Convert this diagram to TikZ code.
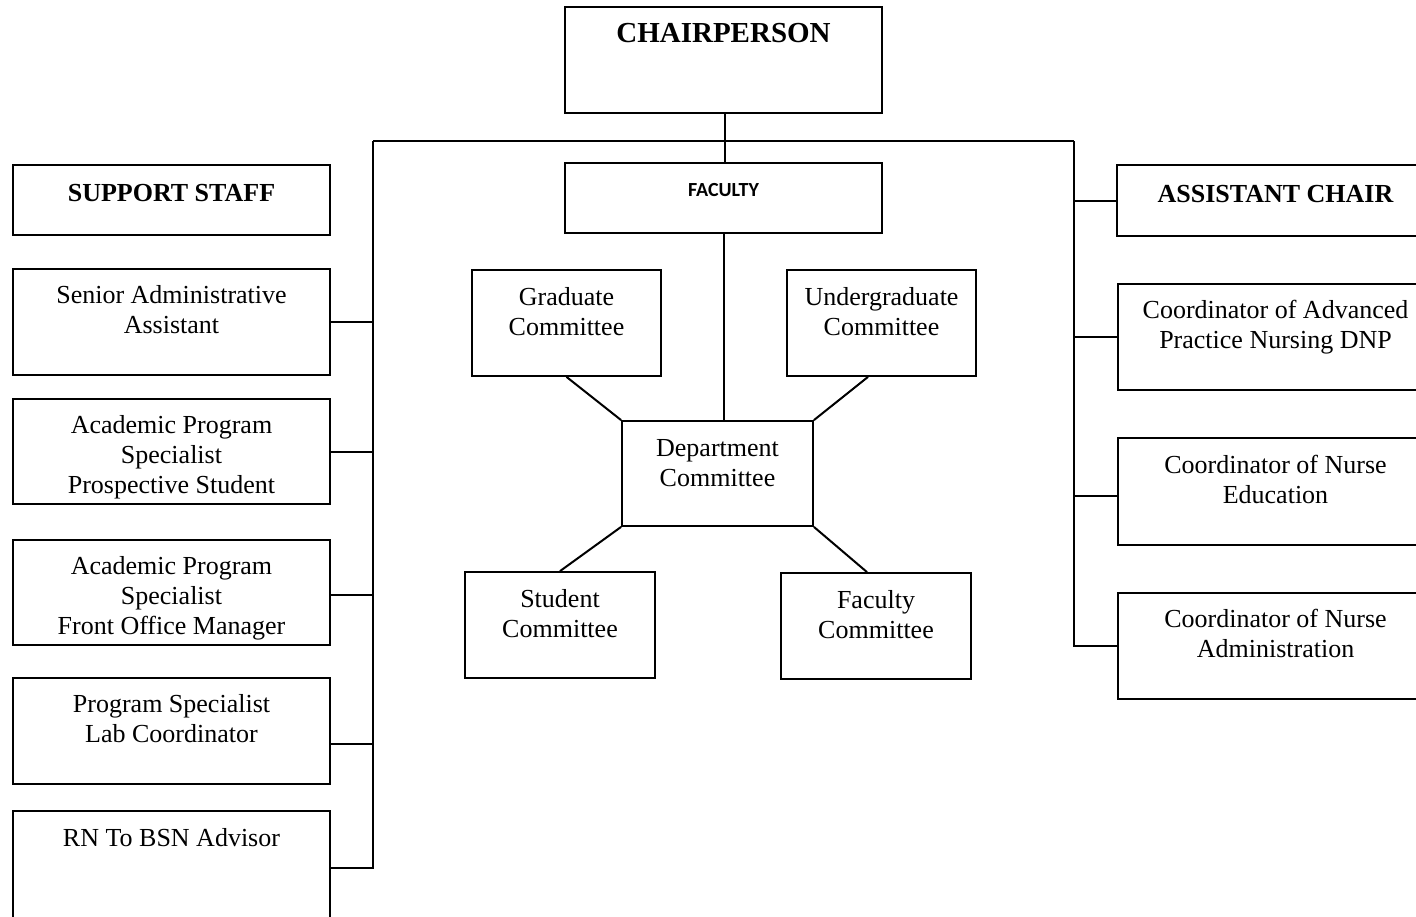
\documentclass[tikz,border=0pt]{standalone}
\usepackage{fontspec}
\setmainfont{Liberation Serif}
\newfontfamily\calfont{Carlito}
\usetikzlibrary{fit}
\begin{document}
\begin{tikzpicture}[x=0.5pt,y=-0.5pt,
  box/.style={draw, line width=0.9pt, rectangle, inner sep=0pt},
  txt/.style={font=\fontsize{13}{15}\selectfont, align=center, anchor=north, inner sep=0pt},
  ttl/.style={font=\fontsize{13}{15}\selectfont\bfseries, align=center, anchor=north, inner sep=0pt},
  link/.style={line width=1pt}]
\useasboundingbox (0,0) rectangle (1416,916);
\clip (0,0) rectangle (1416,916);
% corner coordinates of the boxes
\coordinate (chair-a) at (565,7);   \coordinate (chair-b) at (882,113);
\coordinate (fac-a) at (565,163);   \coordinate (fac-b) at (882,233);
\coordinate (ss-a) at (13,165);     \coordinate (ss-b) at (330,235);
\coordinate (sa-a) at (13,269);     \coordinate (sa-b) at (330,375);
\coordinate (ap1-a) at (13,399);    \coordinate (ap1-b) at (330,504);
\coordinate (ap2-a) at (13,540);    \coordinate (ap2-b) at (330,645);
\coordinate (ps-a) at (13,678);     \coordinate (ps-b) at (330,784);
\coordinate (rn-a) at (13,811);     \coordinate (rn-b) at (330,925);
\coordinate (ac-a) at (1117,165);   \coordinate (ac-b) at (1434,236);
\coordinate (ca-a) at (1118,284);   \coordinate (ca-b) at (1434,390);
\coordinate (ce-a) at (1118,438);   \coordinate (ce-b) at (1434,545);
\coordinate (cn-a) at (1118,593);   \coordinate (cn-b) at (1434,699);
\coordinate (gc-a) at (472,270);    \coordinate (gc-b) at (661,376);
\coordinate (uc-a) at (787,270);    \coordinate (uc-b) at (976,376);
\coordinate (dc-a) at (622,421);    \coordinate (dc-b) at (813,526);
\coordinate (sc-a) at (465,572);    \coordinate (sc-b) at (655,678);
\coordinate (fc-a) at (781,573);    \coordinate (fc-b) at (971,679);
% boxes
\foreach \n in {chair,fac,ss,sa,ap1,ap2,ps,rn,ac,ca,ce,cn,gc,uc,dc,sc,fc}
  \node[box, fit=(\n-a)(\n-b)] (\n) {};
% texts
\node[ttl, font=\fontsize{14.5}{17}\selectfont\bfseries] (chair-t) at (723.5,23) {CHAIRPERSON};
\node[ttl, font=\fontsize{10}{12}\selectfont\calfont\bfseries] (fac-t) at (723.5,183) {FACULTY};
\node[ttl] (ss-t) at (171.5,184) {SUPPORT STAFF};
\node[txt] (sa-t) at (171.5,285) {Senior Administrative\\Assistant};
\node[txt] (ap1-t) at (171.5,415) {Academic Program\\Specialist\\Prospective Student};
\node[txt] (ap2-t) at (171.5,556) {Academic Program\\Specialist\\Front Office Manager};
\node[txt] (ps-t) at (171.5,694) {Program Specialist\\Lab Coordinator};
\node[txt] (rn-t) at (171.5,828) {RN To BSN Advisor};
\node[ttl] (ac-t) at (1275.5,185) {ASSISTANT CHAIR};
\node[txt] (ca-t) at (1275.5,300) {Coordinator of Advanced\\Practice Nursing DNP};
\node[txt] (ce-t) at (1275.5,455) {Coordinator of Nurse\\Education};
\node[txt] (cn-t) at (1275.5,609) {Coordinator of Nurse\\Administration};
\node[txt] (gc-t) at (566.5,287) {Graduate\\Committee};
\node[txt] (uc-t) at (881.5,287) {Undergraduate\\Committee};
\node[txt] (dc-t) at (717.5,439) {Department\\Committee};
\node[txt] (sc-t) at (560,589) {Student\\Committee};
\node[txt] (fc-t) at (876,590) {Faculty\\Committee};
% connectors
\coordinate (busL) at (373,141);
\coordinate (busR) at (1074,141);
\draw[link] (busL) -- (busR);
\draw[link] ([xshift=0.75pt]chair.south) -- ([xshift=0.75pt]fac.north);
\draw[link] (fac.south) -- (fac.south |- dc.north);
\draw[link] (busL) |- (rn.east);
\draw[link] (sa.east) -- (sa.east -| busL);
\draw[link] (ap1.east) -- (ap1.east -| busL);
\draw[link] ([yshift=-1pt]ap2.east) -- ([yshift=-1pt]ap2.east -| busL);
\draw[link] ([yshift=-6.5pt]ps.east) -- ([yshift=-6.5pt]ps.east -| busL);
\draw[link] (busR) |- (cn.west);
\draw[link] (ac.west) -- (ac.west -| busR);
\draw[link] (ca.west) -- (ca.west -| busR);
\draw[link] ([yshift=-2pt]ce.west) -- ([yshift=-2pt]ce.west -| busR);
\draw[link] (gc.south) -- (dc.north west);
\draw[link] ([xshift=-6.75pt]uc.south) -- (dc.north east);
\draw[link] (dc.south west) -- (sc.north);
\draw[link] (dc.south east) -- ([xshift=-4.5pt]fc.north);
\end{tikzpicture}
\end{document}
